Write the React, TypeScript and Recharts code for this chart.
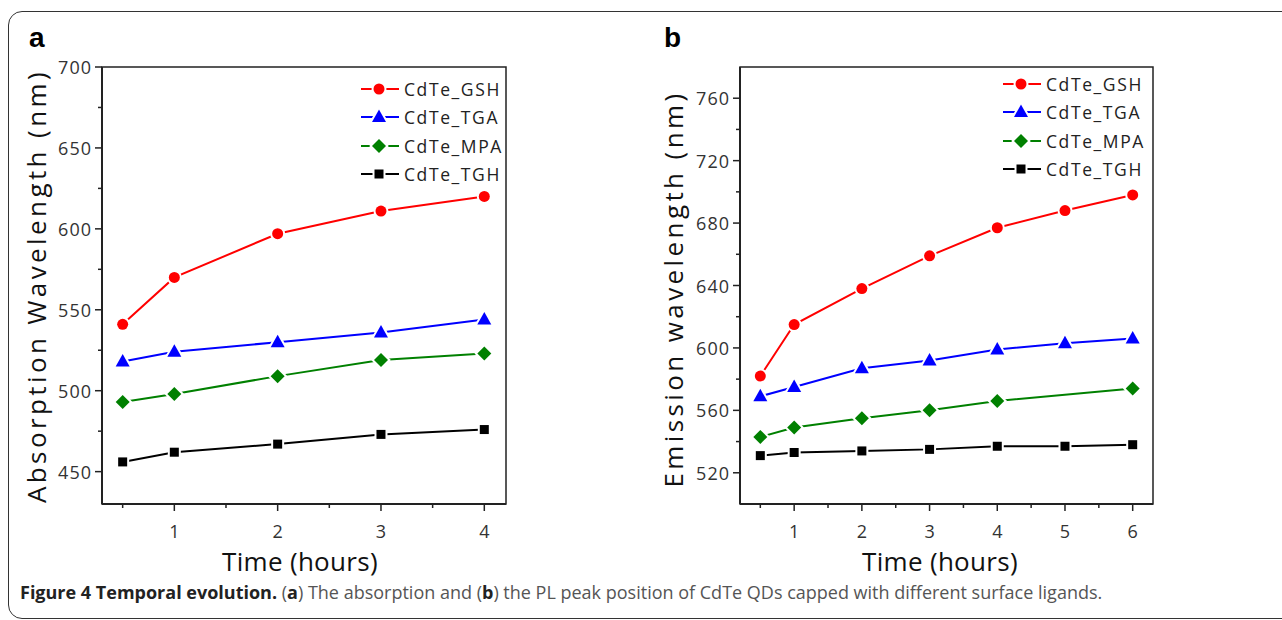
import { LineChart, Line, XAxis, YAxis, Legend, ReferenceArea } from 'recharts'

// panel a: absorption peak (nm)
const absTimes = [0.5, 1, 2, 3, 4]
const absGsh = [541, 570, 597, 611, 620]
const absTga = [518, 524, 530, 536, 544]
const absMpa = [493, 498, 509, 519, 523]
const absTgh = [456, 462, 467, 473, 476]
const absXTicks = [0.5, 1, 1.5, 2, 2.5, 3, 3.5, 4]
const absYTicks = [450, 475, 500, 525, 550, 575, 600, 625, 650, 675, 700]

// panel b: emission peak (nm)
const emTimes = [0.5, 1, 2, 3, 4, 5, 6]
const emGsh = [582, 615, 638, 659, 677, 688, 698]
const emTga = [569, 575, 587, 592, 599, 603, 606]
const emMpa = [543, 549, 555, 560, 566, null, 574]
const emTgh = [531, 533, 534, 535, 537, 537, 538]
const emXTicks = [0.5, 1, 1.5, 2, 2.5, 3, 3.5, 4, 4.5, 5, 5.5, 6]
const emYTicks = [520, 540, 560, 580, 600, 620, 640, 660, 680, 700, 720, 740, 760]

const seriesNames = ['CdTe_GSH', 'CdTe_TGA', 'CdTe_MPA', 'CdTe_TGH']
const seriesKeys = ['gsh', 'tga', 'mpa', 'tgh']
const seriesColors = ['#ff0000', '#0000ff', '#008000', '#000000']
const seriesShapes = ['circle', 'triangle', 'diamond', 'square']

const FONT = '"Open Sans", "Noto Sans", sans-serif'
const AXIS = '#222'

function Marker({ shape, color, cx, cy }: { shape: string; color: string; cx: number; cy: number }) {
  const common = { fill: color, stroke: '#fff', strokeWidth: 4, paintOrder: 'stroke' as const }
  if (shape === 'circle') return <circle cx={cx} cy={cy} r={5.5} {...common} />
  if (shape === 'triangle')
    return <polygon points={`${cx},${cy - 7.5} ${cx - 7},${cy + 5} ${cx + 7},${cy + 5}`} {...common} />
  if (shape === 'diamond')
    return <polygon points={`${cx},${cy - 7} ${cx + 7},${cy} ${cx},${cy + 7} ${cx - 7},${cy}`} {...common} />
  return <rect x={cx - 4.5} y={cy - 4.5} width={9} height={9} {...common} />
}

function makeDot(shape: string, color: string) {
  return (props: any) => {
    const { cx, cy, index, value } = props
    if (value == null || cx == null || cy == null) return <g key={index} />
    return (
      <g key={index}>
        <Marker shape={shape} color={color} cx={cx} cy={cy} />
      </g>
    )
  }
}

function makeXTick() {
  return (props: any) => {
    const { x, y, payload } = props
    const v = payload.value
    const major = Number.isInteger(v)
    return (
      <g>
        <line x1={x} x2={x} y1={y} y2={y + (major ? 7 : 4)} stroke={AXIS} strokeWidth={1.5} />
        {major && (
          <text x={x} y={y + 27} textAnchor="middle" dominantBaseline="central" fill="#333"
            style={{ fontFamily: FONT, fontSize: 18 }}>
            {v}
          </text>
        )}
      </g>
    )
  }
}

function makeYTick(base: number, step: number) {
  return (props: any) => {
    const { x, y, payload } = props
    const v = payload.value
    const major = (v - base) % step === 0
    return (
      <g>
        <line x1={x} x2={x - (major ? 7 : 4)} y1={y} y2={y} stroke={AXIS} strokeWidth={1.5} />
        {major && (
          <text x={x - 10} y={y} textAnchor="end" dominantBaseline="central" fill="#333"
            style={{ fontFamily: FONT, fontSize: 18, letterSpacing: 1 }}>
            {v}
          </text>
        )}
      </g>
    )
  }
}

function LegendBox() {
  return (
    <div style={{ fontFamily: FONT }}>
      {seriesNames.map((name, i) => (
        <div key={name} style={{ display: 'flex', alignItems: 'center', height: 28.3 }}>
          <svg width={40} height={20}>
            <line x1={1} x2={39} y1={10} y2={10} stroke={seriesColors[i]} strokeWidth={2} />
            <Marker shape={seriesShapes[i]} color={seriesColors[i]} cx={19} cy={10} />
          </svg>
          <span style={{ fontSize: 17.5, letterSpacing: 1.6, color: '#222', marginLeft: 4 }}>{name}</span>
        </div>
      ))}
    </div>
  )
}

interface PanelProps {
  left: number
  times: number[]
  values: (number | null)[][]
  xDomain: [number, number]
  yDomain: [number, number]
  xTicks: number[]
  yTicks: number[]
  yBase: number
  yStep: number
  yAxisWidth: number
  marginRight: number
  legendLeft: number
  legendTop: number
}

function Panel(p: PanelProps) {
  const data = p.times.map((t, i) => {
    const row: Record<string, number | null> = { t }
    seriesKeys.forEach((k, j) => {
      row[k] = p.values[j][i]
    })
    return row
  })
  return (
    <div style={{ position: 'absolute', left: p.left, top: 0 }}>
      <LineChart
        width={530}
        height={560}
        data={data}
        margin={{ top: 67, right: p.marginRight, left: 0, bottom: 16 }}
      >
        <XAxis
          dataKey="t"
          type="number"
          domain={p.xDomain}
          allowDataOverflow
          ticks={p.xTicks}
          interval={0}
          height={40}
          tickSize={0}
          tickMargin={0}
          tickLine={false}
          tick={makeXTick()}
          axisLine={{ stroke: AXIS, strokeWidth: 2 }}
        />
        <YAxis
          type="number"
          domain={p.yDomain}
          allowDataOverflow
          ticks={p.yTicks}
          interval={0}
          width={p.yAxisWidth}
          tickSize={0}
          tickMargin={0}
          tickLine={false}
          tick={makeYTick(p.yBase, p.yStep)}
          axisLine={{ stroke: AXIS, strokeWidth: 2 }}
        />
        {/* plot frame */}
        <ReferenceArea
          x1={p.xDomain[0]}
          x2={p.xDomain[1]}
          y1={p.yDomain[0]}
          y2={p.yDomain[1]}
          fill="none"
          stroke={AXIS}
          strokeWidth={1.5}
          ifOverflow="visible"
        />
        <Legend
          layout="vertical"
          align="center"
          verticalAlign="middle"
          content={() => <LegendBox />}
          wrapperStyle={{ left: p.legendLeft, top: p.legendTop, width: 180 }}
        />
        {seriesKeys.map((k, i) => (
          <Line
            key={k}
            dataKey={k}
            name={seriesNames[i]}
            stroke={seriesColors[i]}
            strokeWidth={2}
            dot={makeDot(seriesShapes[i], seriesColors[i])}
            activeDot={false}
            connectNulls
            isAnimationActive={false}
          />
        ))}
      </LineChart>
    </div>
  )
}

function AxisTitle({ text, x, y, vertical, spacing }: { text: string; x: number; y: number; vertical?: boolean; spacing: number }) {
  return (
    <div
      style={{
        position: 'absolute',
        left: x,
        top: y,
        transform: `translate(-50%, -50%)${vertical ? ' rotate(-90deg)' : ''}`,
        whiteSpace: 'nowrap',
        fontFamily: FONT,
        fontSize: 26,
        lineHeight: 1,
        letterSpacing: spacing,
        color: '#111',
      }}
    >
      {text}
    </div>
  )
}

export default function App() {
  return (
    <div
      style={{
        position: 'absolute',
        left: 0,
        top: 0,
        width: 1282,
        height: 620,
        overflow: 'hidden',
        background: '#fff',
      }}
    >
      <div
        style={{
          position: 'absolute',
          left: 8,
          top: 11,
          width: 1300,
          height: 606,
          border: '1.5px solid #333',
          borderRadius: 14,
        }}
      />
      <Panel
        left={0}
        times={absTimes}
        values={[absGsh, absTga, absMpa, absTgh]}
        xDomain={[0.3, 4.21]}
        yDomain={[430, 700]}
        xTicks={absXTicks}
        yTicks={absYTicks}
        yBase={450}
        yStep={50}
        yAxisWidth={102}
        marginRight={24}
        legendLeft={360}
        legendTop={75}
      />
      <Panel
        left={640}
        times={emTimes}
        values={[emGsh, emTga, emMpa, emTgh]}
        xDomain={[0.2, 6.3]}
        yDomain={[500, 780]}
        xTicks={emXTicks}
        yTicks={emYTicks}
        yBase={520}
        yStep={40}
        yAxisWidth={100}
        marginRight={17}
        legendLeft={362}
        legendTop={70}
      />
      <div style={{ position: 'absolute', left: 29, top: 22, fontFamily: '"Liberation Sans", Arial, sans-serif', fontWeight: 'bold', fontSize: 28 }}>a</div>
      <div style={{ position: 'absolute', left: 664, top: 22, fontFamily: '"Liberation Sans", Arial, sans-serif', fontWeight: 'bold', fontSize: 28 }}>b</div>
      <AxisTitle text="Absorption Wavelength (nm)" x={36} y={286} vertical spacing={3.4} />
      <AxisTitle text="Emission wavelength (nm)" x={673} y={289} vertical spacing={3.4} />
      <AxisTitle text="Time (hours)" x={300} y={561} spacing={0.3} />
      <AxisTitle text="Time (hours)" x={940} y={561} spacing={0.3} />
      <div
        style={{
          position: 'absolute',
          left: 20,
          top: 580,
          fontFamily: FONT,
          fontSize: 18,
          color: '#555',
          whiteSpace: 'nowrap',
        }}
      >
        <b style={{ color: '#222' }}>Figure 4 Temporal evolution.</b> (<b style={{ color: '#222' }}>a</b>) The absorption
        and (<b style={{ color: '#222' }}>b</b>) the PL peak position of CdTe QDs capped with different surface ligands.
      </div>
    </div>
  )
}
